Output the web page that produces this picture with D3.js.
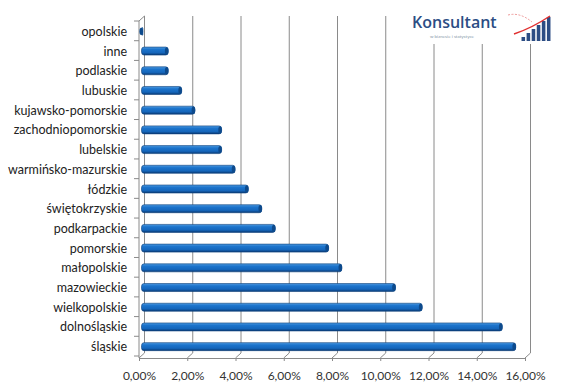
<!DOCTYPE html>
<html><head><meta charset="utf-8">
<script src="https://cdn.jsdelivr.net/npm/d3@7"></script>
<style>body{margin:0;background:#fff}svg{display:block}</style>
</head><body>
<script>
const categories = ["opolskie","inne","podlaskie","lubuskie","kujawsko-pomorskie","zachodniopomorskie","lubelskie","warmińsko-mazurskie","łódzkie","świętokrzyskie","podkarpackie","pomorskie","małopolskie","mazowieckie","wielkopolskie","dolnośląskie","śląskie"];
const values = [0.05,1.11,1.11,1.67,2.22,3.33,3.33,3.89,4.44,5.00,5.56,7.78,8.33,10.56,11.67,15.00,15.56];
const xTicks = [0,2,4,6,8,10,12,14,16];
const logoBars = [1,2,3,4,5,6];

const W = 566, H = 391;
const svg = d3.select("body").append("svg").attr("width", W).attr("height", H);
const font = "Lato, 'Open Sans', sans-serif";
const depth = {dx: 5.5, dy: -5};

const xF = d3.scaleLinear().domain([0,16]).range([139,525]);
const xB = d3.scaleLinear().domain([0,16]).range([139+depth.dx,525+depth.dx]);
const xM = d3.scaleLinear().domain([0,16]).range([141.5,526.3]);
const y = d3.scaleBand().domain(categories).range([21,356]).padding(0);
const floorY = y.range()[1] + 2;

const defs = svg.append("defs");
const g1 = defs.append("linearGradient").attr("id","barg").attr("x1",0).attr("y1",0).attr("x2",0).attr("y2",1);
g1.append("stop").attr("offset","0%").attr("stop-color","#4d9ae0");
g1.append("stop").attr("offset","30%").attr("stop-color","#1c74cc");
g1.append("stop").attr("offset","70%").attr("stop-color","#1566bb");
g1.append("stop").attr("offset","100%").attr("stop-color","#0a3a74");

const grid = "#8a8a8a";
svg.append("g").selectAll("line").data(xTicks).join("line")
  .attr("x1", d=>xB(d)).attr("x2", d=>xB(d))
  .attr("y1", y.range()[0]+depth.dy).attr("y2", floorY+depth.dy)
  .attr("stroke", grid).attr("stroke-width", 1);
svg.append("g").selectAll("line").data(xTicks).join("line")
  .attr("x1", d=>xF(d)).attr("x2", d=>xB(d))
  .attr("y1", floorY).attr("y2", floorY+depth.dy)
  .attr("stroke", grid).attr("stroke-width", 1);
const xAxis = d3.axisBottom(xF).tickValues(xTicks).tickSize(3)
  .tickFormat(d => d3.format(".2f")(d).replace(".", ",") + "%");
const gx = svg.append("g").attr("transform", `translate(0,${floorY})`).call(xAxis);
gx.select(".domain").attr("stroke", grid);
gx.selectAll(".tick line").attr("stroke", grid);
gx.selectAll("text").attr("font-family", font).attr("font-size", 12).attr("fill", "#333").attr("dy", "1.3em");

svg.append("line").attr("x1",xF(0)).attr("y1",y.range()[0]).attr("x2",xB(0)).attr("y2",y.range()[0]+depth.dy).attr("stroke",grid);
const yAxis = d3.axisLeft(y).tickSize(0).tickPadding(12);
const gy = svg.append("g").attr("transform", `translate(${xF(0)},0)`).call(yAxis);
gy.select(".domain").attr("stroke", grid).attr("d", `M0,${y.range()[0]}V${floorY}`);
gy.selectAll("text").attr("font-family", font).attr("font-size", 12.5).attr("fill", "#222").attr("dy", "0.4em");
svg.append("g").selectAll("line").data(categories).join("line")
  .attr("x1", xF(0)-5).attr("x2", xF(0))
  .attr("y1", (d,i)=> y.range()[0] + (i+1)*y.bandwidth())
  .attr("y2", (d,i)=> y.range()[0] + (i+1)*y.bandwidth())
  .attr("stroke", grid);
svg.append("line").attr("x1", xF(0)-5).attr("x2", xF(0)).attr("y1", y.range()[0]).attr("y2", y.range()[0]).attr("stroke", grid);

const bh = 8;
const bars = svg.append("g").selectAll("g").data(categories).join("g");
bars.append("rect")
  .attr("x", xM(0)).attr("y", d => y(d)+y.bandwidth()/2 - bh/2 + 0.5)
  .attr("width", (d,i)=> Math.max(1.5, xM(values[i]) - xM(0)))
  .attr("height", bh).attr("rx", 2.5).attr("ry", 3)
  .attr("fill", "url(#barg)").attr("stroke", "#0c3f7c").attr("stroke-width", 0.6);
bars.append("ellipse")
  .attr("cx", (d,i)=> xM(values[i]) - 1.5).attr("cy", d => y(d)+y.bandwidth()/2 + 0.5)
  .attr("rx", 1.8).attr("ry", bh/2 - 0.3)
  .attr("fill", "#0d4a8c");

// logo
const logo = svg.append("g");
logo.append("rect").attr("x", 395).attr("y", 0).attr("width", 171).attr("height", 44).attr("fill", "#fff");
logo.append("text").attr("x", 412).attr("y", 28).text("Konsultant")
  .attr("font-family", "'Open Sans', sans-serif").attr("font-size", 16).attr("font-weight", 600).attr("fill", "#2c4d84");
logo.append("text").attr("x", 430).attr("y", 38).text("w biznesie i statystyce")
  .attr("font-family", font).attr("font-size", 4.5).attr("fill", "#8899aa");
const lb = d3.scaleBand().domain(logoBars.map((d,i)=>i)).range([520,552]).padding(0.3);
const lh = d3.scaleLinear().domain([0,6]).range([0,24]);
logo.append("g").selectAll("rect").data(logoBars).join("rect")
  .attr("x", (d,i)=> lb(i)).attr("y", d=> 41 - lh(d)).attr("width", lb.bandwidth()).attr("height", d=> lh(d))
  .attr("fill", "#2c4d84");
logo.append("path").attr("d", "M514,34 Q532,28 550,16").attr("stroke", "#e03030").attr("stroke-width", 1.5).attr("fill", "none");
logo.append("path").attr("d", "M508,15 Q520,12 532,22").attr("stroke", "#e88080").attr("stroke-width", 0.8).attr("stroke-dasharray","2,1.5").attr("fill", "none");
</script>
</body></html>
